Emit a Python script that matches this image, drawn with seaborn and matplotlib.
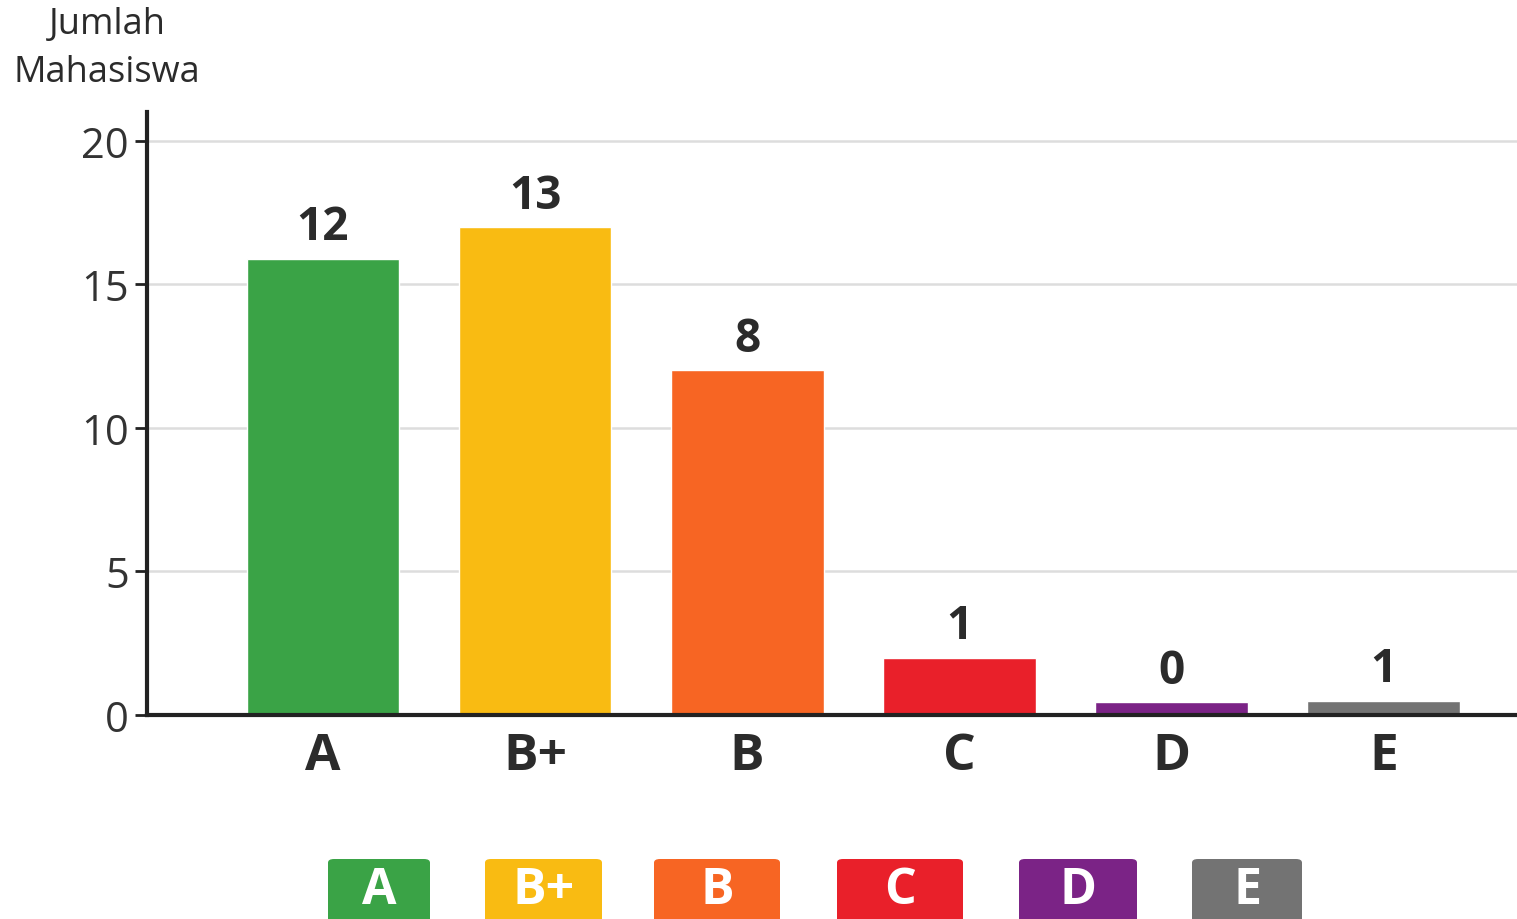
import seaborn as sns
import matplotlib.pyplot as plt
import pandas as pd
from matplotlib.patches import FancyBboxPatch

# Data
grades = ['A', 'B+', 'B', 'C', 'D', 'E']
bar_heights = [15.9, 17.0, 12.0, 2.0, 0.45, 0.5]
count_labels = ['12', '13', '8', '1', '0', '1']
colors = ['#3aa346', '#f9bb12', '#f76523', '#e9202a', '#7b2386', '#737373']
y_ticks = [0, 5, 10, 15, 20]

df = pd.DataFrame({'Nilai': grades, 'Tinggi': bar_heights})

sns.set_style('white')
plt.rcParams['font.family'] = ['Open Sans', 'DejaVu Sans']

W, H = 1517, 920
fig = plt.figure(figsize=(W / 100, H / 100), dpi=100)
ax = fig.add_axes([0.0969, 0.2217, 0.9031, 0.6554])

sns.barplot(data=df, x='Nilai', y='Tinggi', hue='Nilai', palette=colors,
            width=0.72, legend=False, ax=ax, saturation=1)

for cont, lab in zip(ax.containers, count_labels):
    ax.bar_label(cont, labels=[lab], padding=6, fontsize=33,
                 fontweight='bold', color='#2b2b2b')

ax.set_ylim(0, 21)
ax.set_xlim(-0.83, 5.63)
ax.set_yticks(y_ticks)
ax.yaxis.grid(True, color='#dddddd', linewidth=1.8)
ax.set_axisbelow(True)

for side in ['top', 'right']:
    ax.spines[side].set_visible(False)
ax.spines['left'].set_linewidth(3)
ax.spines['bottom'].set_linewidth(3)
ax.spines['left'].set_color('#222222')
ax.spines['bottom'].set_color('#222222')

ax.tick_params(axis='y', left=True, length=9, width=2, color='#222222',
               labelsize=30, labelcolor='#333333', pad=4)
ax.tick_params(axis='x', bottom=False, labelsize=37, labelcolor='#2b2b2b', pad=8)
for t in ax.get_xticklabels():
    t.set_fontweight('bold')

ax.set_xlabel('')
ax.set_ylabel('')
fig.text(107 / W, 1 - 49 / H, 'Jumlah\nMahasiswa', ha='center', va='center',
         fontsize=26, color='#2b2b2b', linespacing=1.45)

# Colour key at the bottom (boxes run off the lower edge)
key_boxes = [(328, 430), (485, 602), (654, 780), (837, 963), (1019, 1137), (1192, 1302)]
for g, c, (x0, x1) in zip(grades, colors, key_boxes):
    fig.add_artist(FancyBboxPatch((x0 / W, -0.02), (x1 - x0) / W, (H - 860) / H + 0.02,
                                  boxstyle='round,pad=0,rounding_size=0.004',
                                  transform=fig.transFigure, facecolor=c,
                                  edgecolor='none'))
    fig.text((x0 + x1) / 2 / W, 1 - 891 / H, g, ha='center', va='center',
             fontsize=36, fontweight='bold', color='white')

plt.savefig('out.png', dpi=100)
plt.close()
